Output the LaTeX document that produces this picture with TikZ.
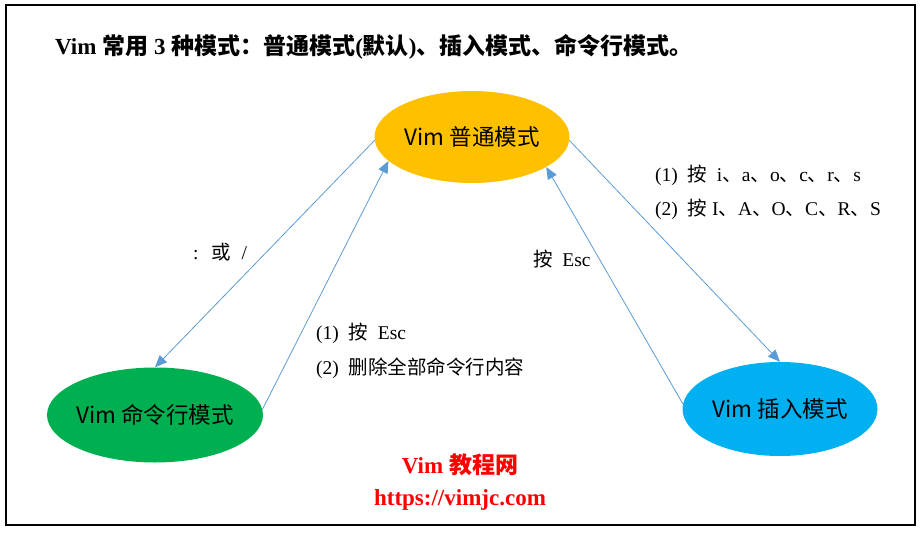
\documentclass[tikz,border=0pt]{standalone}
\usepackage{fontspec}
\usepackage{xcolor}
\setmainfont{Liberation Serif}
\newfontfamily\cjk{Noto Sans CJK SC}
\usetikzlibrary{shapes,arrows.meta,positioning}
\definecolor{ptyellow}{HTML}{FFC000}
\definecolor{ptgreen}{HTML}{00B050}
\definecolor{ptblue}{HTML}{00B0F0}
\definecolor{linkblue}{HTML}{5B9BD5}
\newcommand{\zh}[1]{{\cjk #1}}

\begin{document}
\begin{tikzpicture}[x=1pt,y=-1pt,
  mode/.style={ellipse, inner sep=-10pt, minimum width=195pt, minimum height=92pt, font=\cjk\fontsize{22.5}{26}\selectfont},
  link/.style={draw=linkblue, line width=0.8pt, -{Triangle[length=12pt,width=10pt]}},
  note/.style={anchor=west, inner sep=0pt, font=\fontsize{19.5}{23}\selectfont},
  site/.style={text=red, font=\bfseries\fontsize{23}{27}\selectfont}]
	\useasboundingbox (0,0) rectangle (923,535);
	\draw[line width=2pt] (6,5) rectangle (915,525);
	
	\node[anchor=west, inner sep=0pt, font=\bfseries\fontsize{23}{27}\selectfont] (title) at (55,47) {Vim \zh{常用} 3 \zh{种模式：普通模式}(\zh{默认})\zh{、插入模式、命令行模式。}};
	
	\node[mode, fill=ptyellow] (normal) at (472,137) {Vim 普通模式};
	\node[mode, fill=ptgreen, minimum width=216pt, minimum height=95pt] (cmdline) at (155,415) {Vim 命令行模式};
	\node[mode, fill=ptblue, minimum height=94pt] (insert) at (780,409) {Vim 插入模式};
	
	\draw[link] (normal.182) -- (cmdline.north);
	\draw[link] (cmdline.3) -- (normal.196);
	\draw[link] (normal.-2) -- (insert.north);
	\draw[link] (insert.177) -- (normal.-22);
	
	\node[note] (colon) at (193,252) {:\hspace{12.5pt}\zh{或}\hspace{11pt}/};
	\node[note] (esc1) at (316,333) {(1)\ \ \zh{按}\ \ Esc};
	\node[note] (esc2) at (316,368) {(2)\ \ \zh{删除全部命令行内容}};
	\node[note] (esc3) at (533,259) {\zh{按}\ \ Esc};
	\node[note] (keys1) at (655,175) {(1)\ \ \zh{按}\ \ i\zh{、}a\zh{、}o\zh{、}c\zh{、}r\zh{、}s};
	\node[note] (keys2) at (655,209) {(2)\ \ \zh{按}\ I\zh{、}A\zh{、}O\zh{、}C\zh{、}R\zh{、}S};
	
	\node[site] (site) at (460,465) {Vim \zh{教程网}};
	\node[site, below=6pt of site] (url) {https://vimjc.com};
\end{tikzpicture}
\end{document}
